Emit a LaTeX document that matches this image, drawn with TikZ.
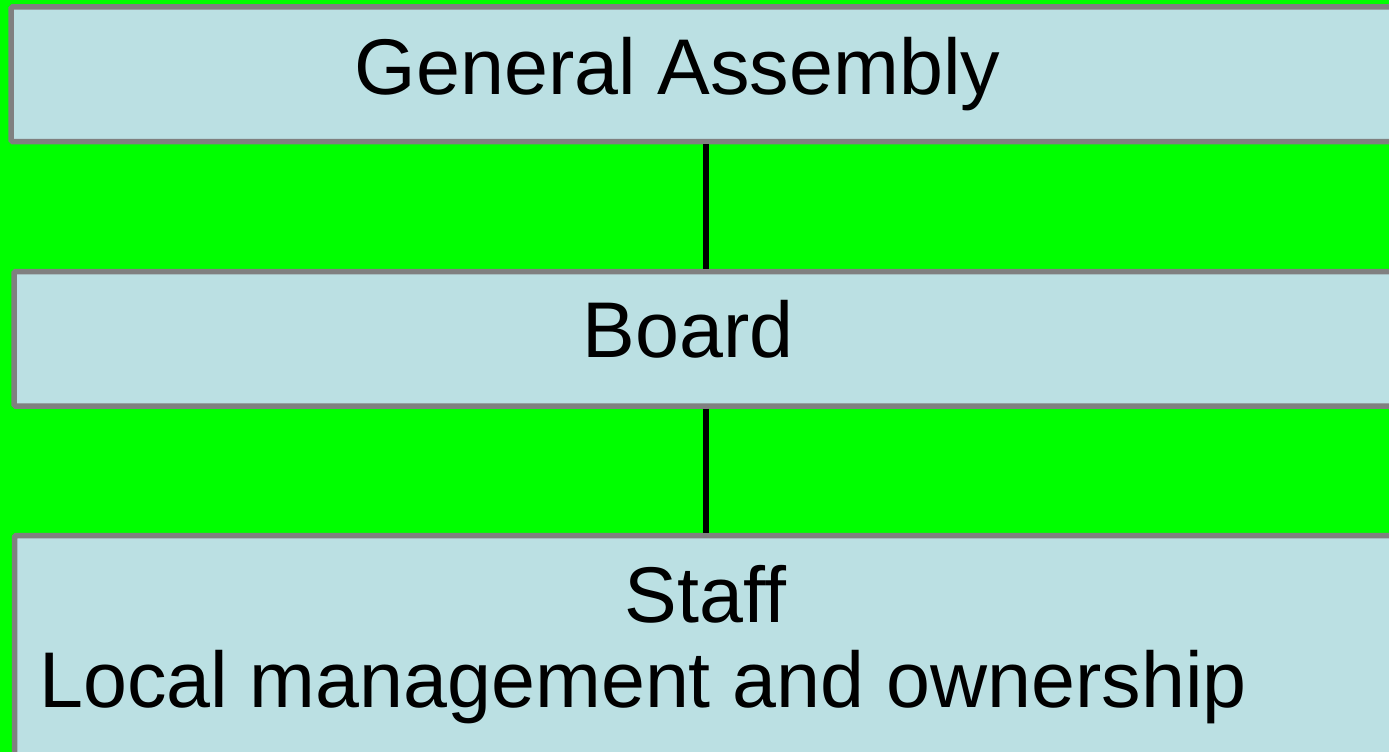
\documentclass[tikz,border=0pt]{standalone}
\usepackage{fontspec}
\setmainfont{Liberation Sans}
\usepackage{tikz}
\usetikzlibrary{positioning}

\definecolor{boxfill}{RGB}{187,224,227}
\definecolor{boxline}{RGB}{128,128,128}
\definecolor{bggreen}{RGB}{0,255,0}

\tikzset{
	orgbox/.style={draw=boxline, fill=boxfill, line width=5.5pt, rounded corners=1.5pt, inner sep=0pt},
	orglabel/.style={inner sep=0pt, font=\fontsize{79}{95}\selectfont},
	link/.style={draw=black, line width=6pt}
}

\begin{document}
\begin{tikzpicture}[x=1pt, y=-1pt]
	\useasboundingbox (0,0) rectangle (1389,752);
	\clip (0,0) rectangle (1389,752);
	\fill[bggreen] (0,0) rectangle (1389,752);
	% the three levels
	\node[orgbox, minimum width=1390pt, minimum height=134.5pt] (assembly) at (706, 74.25) {};
	\node[orgbox, minimum width=1384pt, minimum height=134.5pt] (board) at (706, 338.75) {};
	\node[orgbox, minimum width=1383pt, minimum height=264.5pt] (staff) at (706, 667.75) {};
	\node[orglabel, anchor=base] (assemblytext) at (677.5, 95) {General Assembly};
	\node[orglabel, anchor=base] (boardtext) at (688, 357) {Board};
	\node[orglabel, anchor=base] (stafftext) at (705.5, 622) {Staff};
	\node[orglabel, anchor=base west] (localtext) at (39, 707) {Local management and ownership};
	\draw[link] (assembly) -- (board);
	\draw[link] (board) -- (staff);
\end{tikzpicture}
\end{document}
